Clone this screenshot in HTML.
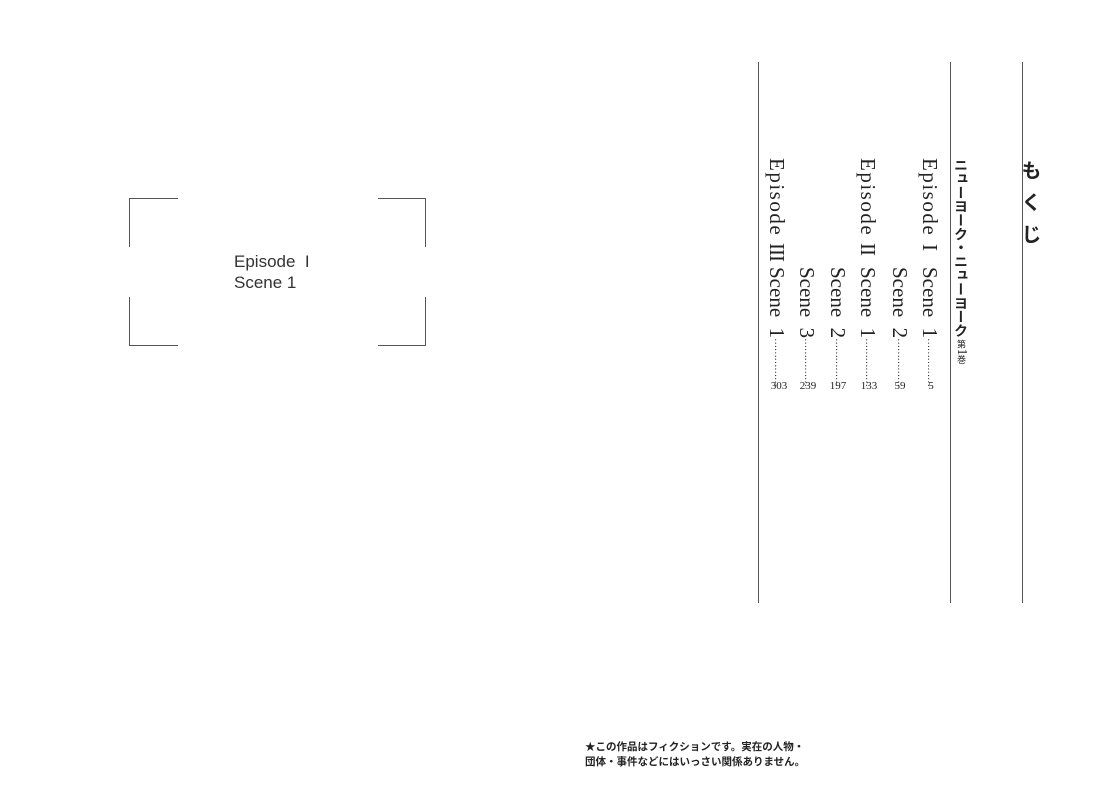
<!DOCTYPE html>
<html><head><meta charset="utf-8"><style>
html,body{margin:0;padding:0;background:#fff;}
body{width:1096px;height:811px;position:relative;overflow:hidden;color:#222;}
.a{position:absolute;}
.l{position:absolute;background:#555;}
.v{position:absolute;writing-mode:vertical-rl;white-space:nowrap;font-family:"Liberation Serif","Noto Serif CJK SC",serif;font-size:21px;line-height:1;color:#222;}
.e{letter-spacing:1.5px;}
.r{letter-spacing:-1px;}
.n{position:absolute;font-family:"Liberation Serif",serif;font-size:11px;color:#222;transform:translateX(-50%);}
.s{font-family:"Liberation Sans",sans-serif;font-size:17px;color:#333;}
.d{font-size:10px;letter-spacing:-0.3px}
</style></head><body>
<!-- left box -->
<div class="l" style="left:129px;top:198px;width:49px;height:1px"></div>
<div class="l" style="left:129px;top:198px;width:1px;height:49px"></div>
<div class="l" style="left:129px;top:345px;width:49px;height:1px"></div>
<div class="l" style="left:129px;top:297px;width:1px;height:49px"></div>
<div class="l" style="left:378px;top:198px;width:48px;height:1px"></div>
<div class="l" style="left:425px;top:198px;width:1px;height:49px"></div>
<div class="l" style="left:378px;top:345px;width:48px;height:1px"></div>
<div class="l" style="left:425px;top:297px;width:1px;height:49px"></div>
<div class="a s" style="left:234px;top:252px;">Episode&nbsp;&nbsp;I</div>
<div class="a s" style="left:234px;top:273px;">Scene 1</div>

<!-- right vertical rules -->
<div class="l" style="left:758px;top:62px;width:1px;height:541px"></div>
<div class="l" style="left:950px;top:62px;width:1px;height:541px"></div>
<div class="l" style="left:1022px;top:62px;width:1px;height:541px"></div>

<div class="v" style="left:1019px;top:160px;font-family:'Liberation Sans','Noto Sans CJK JP',sans-serif;font-size:20px;letter-spacing:12px;font-weight:bold;">もくじ</div>
<div class="v" style="left:954px;top:158px;font-family:'Liberation Sans','Noto Sans CJK JP',sans-serif;font-size:14px;font-weight:bold;letter-spacing:-0.2px;">ニューヨーク・ニューヨーク<span style="font-size:9px;font-weight:normal"> 第</span><span style="font-size:14px;font-weight:normal;font-family:'Liberation Serif',serif">1</span><span style="font-size:9px;font-weight:normal">巻</span></div>

<div class="v e" style="left:919px;top:158px;">Episode</div>
<div class="v r" style="left:919px;top:244px;">I</div>
<div class="v" style="left:919px;top:267px;">Scene&nbsp;&nbsp;1<span class="d">……………</span></div>
<div class="v" style="left:889px;top:267px;">Scene&nbsp;&nbsp;2<span class="d">……………</span></div>
<div class="v e" style="left:857px;top:158px;">Episode</div>
<div class="v r" style="left:857px;top:243px;">II</div>
<div class="v" style="left:857px;top:267px;">Scene&nbsp;&nbsp;1<span class="d">……………</span></div>
<div class="v" style="left:827px;top:267px;">Scene&nbsp;&nbsp;2<span class="d">……………</span></div>
<div class="v" style="left:796px;top:267px;">Scene&nbsp;&nbsp;3<span class="d">……………</span></div>
<div class="v e" style="left:766px;top:158px;">Episode</div>
<div class="v r" style="left:766px;top:243px;">III</div>
<div class="v" style="left:766px;top:267px;">Scene&nbsp;&nbsp;1<span class="d">……………</span></div>

<div class="n" style="left:931px;top:380px;">5</div>
<div class="n" style="left:900px;top:380px;">59</div>
<div class="n" style="left:869px;top:380px;">133</div>
<div class="n" style="left:838px;top:380px;">197</div>
<div class="n" style="left:808px;top:380px;">239</div>
<div class="n" style="left:779px;top:380px;">303</div>

<div class="a" style="left:585px;top:740px;font-family:'Liberation Sans','Noto Sans CJK JP',sans-serif;font-size:10.5px;line-height:15px;font-weight:bold;color:#222;white-space:nowrap;">★この作品はフィクションです。実在の人物・<br>団体・事件などにはいっさい関係ありません。</div>
</body></html>
